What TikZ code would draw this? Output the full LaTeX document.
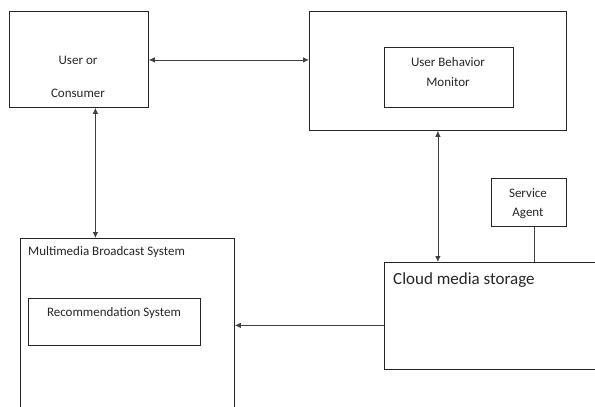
\documentclass[tikz,border=0pt]{standalone}
\usepackage{fontspec}
\setmainfont{Carlito}
\usetikzlibrary{arrows.meta}
\tikzset{
  box/.style={draw=black!85,line width=0.8pt,anchor=north west,inner sep=0pt},
  txt/.style={font=\fontsize{13}{15}\selectfont,inner sep=0pt,text=black!85},
  link/.style={draw=black!75,line width=0.8pt,{Latex[length=6pt,width=5.5pt]}-{Latex[length=6pt,width=5.5pt]}}
}
\begin{document}
\begin{tikzpicture}[x=1pt,y=-1pt]
  \useasboundingbox (0,0) rectangle (595,407);
  \clip (0,0) rectangle (595,407);
  % outer boxes
  \node[box,minimum width=139pt,minimum height=96pt] (user) at (9,11) {};
  \node[box,minimum width=257pt,minimum height=119pt] (ubm) at (309,11) {};
  \node[box,minimum width=129pt,minimum height=60pt] (monitor) at (384,47) {};
  \node[box,minimum width=75pt,minimum height=48pt] (agent) at (491,178) {};
  \node[box,minimum width=214pt,minimum height=180pt] (mbs) at (20,238) {};
  \node[box,minimum width=172pt,minimum height=47pt] (rec) at (28,298) {};
  \node[box,minimum width=216pt,minimum height=107pt] (cloud) at (384,262) {};
  % texts
  \node[txt] (usera) at (78,60) {User or};
  \node[txt] (userb) at (78,93) {Consumer};
  \node[txt] (mona) at (448,62) {User Behavior};
  \node[txt] (monb) at (448,82) {Monitor};
  \node[txt] (agenta) at (528,193) {Service};
  \node[txt] (agentb) at (528,213) {Agent};
  \node[txt,anchor=west] (mbstxt) at (28,252) {Multimedia Broadcast System};
  \node[txt] (rectxt) at (114,313) {Recommendation System};
  \node[txt,anchor=west,font=\fontsize{17}{19}\selectfont] (cloudtxt) at (393,280) {Cloud media storage};
  % connectors
  \draw[link] ([yshift=-0.5pt]user.east) -- ([yshift=-0.5pt]user.east -| ubm.west);
  \draw[link] ([xshift=16.5pt]user.south) -- ([xshift=16.5pt]user.south |- mbs.north);
  \draw[link] (ubm.south) -- (ubm.south |- cloud.north);
  \draw[draw=black!75,line width=0.8pt] ([xshift=5.5pt]agent.south) -- ([xshift=5.5pt]agent.south |- cloud.north);
  \draw[draw=black!75,line width=0.8pt,-{Latex[length=6pt,width=5.5pt]}] ([yshift=-9.5pt]cloud.west) -- ([yshift=-9.5pt]cloud.west -| mbs.east);
\end{tikzpicture}
\end{document}
